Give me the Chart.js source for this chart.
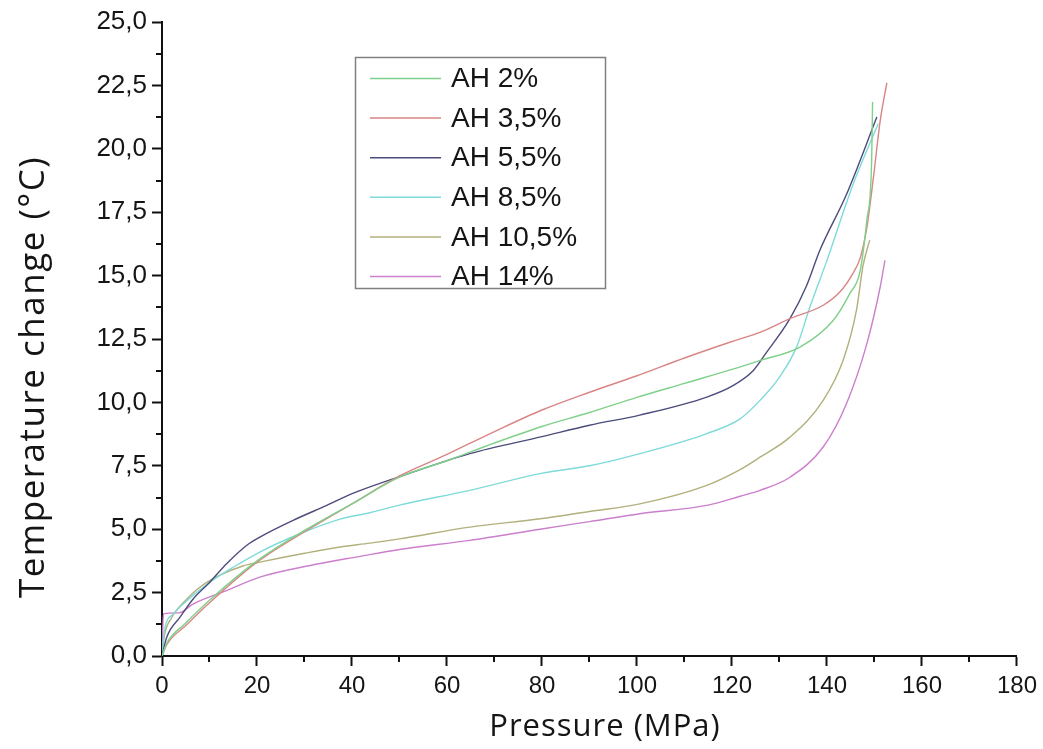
<!DOCTYPE html>
<html><head><meta charset="utf-8">
<script src="https://cdn.jsdelivr.net/npm/chart.js@4.4.1/dist/chart.umd.min.js"></script>
<style>html,body{margin:0;padding:0;background:#fff;}#wrap{width:1043px;height:749px;}</style>
</head><body><div id="wrap"><canvas id="c" width="1043" height="749"></canvas></div>
<script>
// ---- data ----
const seriesLabels = ['AH 2%', 'AH 3,5%', 'AH 5,5%', 'AH 8,5%', 'AH 10,5%', 'AH 14%'];
const seriesColors = ['#7fd08a', '#d98585', '#4c4c7c', '#7fdada', '#b2b07c', '#cc7fcc'];

const ah2P  = [0, 1, 5, 10, 20, 30, 40, 50, 60, 70, 80, 90, 100, 110, 120, 126, 134.3, 141.3, 144.8, 147, 148.4, 149.4, 149.6];
const ah2T  = [0, 0.5, 1.3, 2.2, 3.75, 4.95, 6.0, 7.05, 7.7, 8.4, 9.05, 9.6, 10.2, 10.75, 11.3, 11.66, 12.18, 13.23, 14.29, 15.2, 17.2, 19.5, 21.85];

const ah35P = [0, 1, 5, 10, 20, 30, 40, 50, 60, 70, 80, 90, 100, 110, 120, 126, 132.2, 139.2, 142.7, 145.5, 147, 148.4, 149.8, 151.2, 152.6];
const ah35T = [0, 0.45, 1.2, 2.1, 3.7, 4.9, 6.0, 7.1, 7.95, 8.85, 9.7, 10.4, 11.05, 11.75, 12.4, 12.77, 13.3, 13.83, 14.35, 15.1, 15.7, 16.9, 18.9, 21.1, 22.6];

const ah55P = [0, 1, 3.8, 6.6, 10, 13.6, 17.8, 20.6, 27.6, 34.7, 40.3, 50.8, 64.8, 80, 90, 100.6, 114.7, 120.3, 124.5, 127, 132.2, 135.7, 138.5, 144.1, 150.5];
const ah55T = [0, 0.74, 1.53, 2.26, 2.9, 3.64, 4.36, 4.69, 5.35, 5.94, 6.42, 7.12, 7.98, 8.65, 9.1, 9.5, 10.21, 10.67, 11.26, 11.9, 13.3, 14.6, 16.0, 18.2, 21.25];

const ah85P = [0, 0.5, 2.4, 4.5, 6.6, 10, 15, 20.6, 29, 37.5, 43.8, 50, 64.8, 79.6, 90, 100.6, 114.7, 121.7, 126, 130, 133.6, 136.4, 140, 145.5, 150.8];
const ah85T = [0, 1.0, 1.66, 2.06, 2.4, 2.9, 3.5, 4.1, 4.82, 5.4, 5.65, 5.95, 6.53, 7.19, 7.5, 7.98, 8.77, 9.35, 10.1, 11.0, 12.18, 13.76, 15.6, 18.6, 21.0];

const ah105P = [0, 0.5, 2, 5, 9.4, 17, 20.6, 30, 37.5, 43.8, 50, 64.8, 79.6, 90, 100.6, 114.7, 121.7, 125.9, 132.2, 139.2, 143.4, 146.2, 147.6, 149];
const ah105T = [0, 0.8, 1.5, 2.2, 2.9, 3.55, 3.7, 4.05, 4.3, 4.45, 4.62, 5.08, 5.41, 5.7, 6.0, 6.73, 7.35, 7.84, 8.63, 10.08, 11.66, 13.63, 15.4, 16.4];

const ah14P = [0, 0.3, 3.5, 6.6, 13.6, 20.6, 31.2, 41.7, 50, 64.8, 79.6, 90, 100.6, 114.7, 121.7, 125.9, 132.2, 139.2, 144.1, 148.4, 151.2, 152.2];
const ah14T = [0, 1.66, 1.7, 2.06, 2.58, 3.11, 3.57, 3.93, 4.2, 4.56, 5.0, 5.3, 5.61, 5.94, 6.3, 6.53, 7.05, 8.24, 9.95, 12.32, 14.55, 15.6];

const xTickValues = [0, 20, 40, 60, 80, 100, 120, 140, 160, 180];
const yTickValues = [0, 2.5, 5, 7.5, 10, 12.5, 15, 17.5, 20, 22.5, 25];
const xTitle = 'Pressure (MPa)';
const yTitle = 'Temperature change (°C)';

// ---- build datasets ----
const seriesP = [ah2P, ah35P, ah55P, ah85P, ah105P, ah14P];
const seriesT = [ah2T, ah35T, ah55T, ah85T, ah105T, ah14T];
const datasets = seriesLabels.map((lab, i) => ({
  label: lab,
  data: seriesP[i].map((p, k) => ({x: p, y: seriesT[i][k]})),
  borderColor: seriesColors[i],
  backgroundColor: seriesColors[i],
  borderWidth: 1.4,
  pointRadius: 0,
  fill: false,
  cubicInterpolationMode: 'monotone'
}));

const minorTicks = {
  id: 'minorTicks',
  afterDraw(chart) {
    const ctx = chart.ctx, xs = chart.scales.x, ys = chart.scales.y, a = chart.chartArea;
    ctx.save();
    ctx.strokeStyle = '#111'; ctx.lineWidth = 2;
    for (let i = 0; i < xTickValues.length - 1; i++) {
      const v = (xTickValues[i] + xTickValues[i + 1]) / 2;
      const px = Math.round(xs.getPixelForValue(v));
      ctx.beginPath(); ctx.moveTo(px, a.bottom); ctx.lineTo(px, a.bottom + 6); ctx.stroke();
    }
    for (let i = 0; i < yTickValues.length - 1; i++) {
      const v = (yTickValues[i] + yTickValues[i + 1]) / 2;
      const py = Math.round(ys.getPixelForValue(v));
      ctx.beginPath(); ctx.moveTo(a.left, py); ctx.lineTo(a.left - 6, py); ctx.stroke();
    }
    ctx.restore();
  }
};

const boxLegend = {
  id: 'boxLegend',
  afterDraw(chart) {
    const ctx = chart.ctx;
    ctx.save();
    ctx.strokeStyle = '#808080'; ctx.lineWidth = 1.5;
    ctx.strokeRect(355.5, 57.5, 250, 231);
    ctx.font = '28px "Liberation Sans", Arial, sans-serif';
    ctx.fillStyle = '#151515';
    ctx.textBaseline = 'middle';
    chart.data.datasets.forEach((ds, i) => {
      const y = 78.5 + i * 39.6;
      ctx.strokeStyle = ds.borderColor; ctx.lineWidth = 1.5;
      ctx.beginPath(); ctx.moveTo(370, y); ctx.lineTo(441, y); ctx.stroke();
      ctx.fillText(ds.label, 451, y + 1);
    });
    ctx.restore();
  }
};

const axisTitles = {
  id: 'axisTitles',
  afterDraw(chart) {
    const ctx = chart.ctx;
    ctx.save();
    ctx.fillStyle = '#151515';
    ctx.textAlign = 'center'; ctx.textBaseline = 'middle';
    ctx.font = '31px "Open Sans", sans-serif';
    ctx.letterSpacing = '1px';
    ctx.fillText(xTitle, 605, 727);
    ctx.font = '35px "Open Sans", sans-serif';
    ctx.letterSpacing = '1.5px';
    ctx.translate(34, 377); ctx.rotate(-Math.PI / 2);
    ctx.fillText(yTitle, 0, 0);
    ctx.restore();
  }
};

new Chart(document.getElementById('c'), {
  type: 'line',
  data: { datasets },
  plugins: [minorTicks, boxLegend, axisTitles],
  options: {
    responsive: false,
    devicePixelRatio: 1,
    animation: false,
    layout: { padding: { top: 22, right: 26, left: 0, bottom: 0 } },
    plugins: { legend: { display: false }, tooltip: { enabled: false } },
    scales: {
      x: {
        type: 'linear', min: 0, max: 180,
        afterBuildTicks: s => { s.ticks = xTickValues.map(v => ({value: v})); },
        ticks: { font: { family: '"Liberation Sans", Arial, sans-serif', size: 24 }, color: '#151515', padding: 6, maxRotation: 0 },
        grid: { drawOnChartArea: false, drawTicks: true, tickLength: 10, tickWidth: 2, tickColor: '#111' },
        border: { display: true, color: '#111', width: 2 },
        afterFit: s => { s.height = 93; }
      },
      y: {
        type: 'linear', min: 0, max: 25,
        afterBuildTicks: s => { s.ticks = yTickValues.map(v => ({value: v})); },
        ticks: { font: { family: '"Liberation Sans", Arial, sans-serif', size: 26 }, color: '#151515', padding: 5,
                 callback: v => Number(v).toFixed(1).replace('.', ',') },
        grid: { drawOnChartArea: false, drawTicks: true, tickLength: 10, tickWidth: 2, tickColor: '#111' },
        border: { display: true, color: '#111', width: 2 },
        afterFit: s => { s.width = 162; }
      }
    }
  }
});
</script></body></html>
